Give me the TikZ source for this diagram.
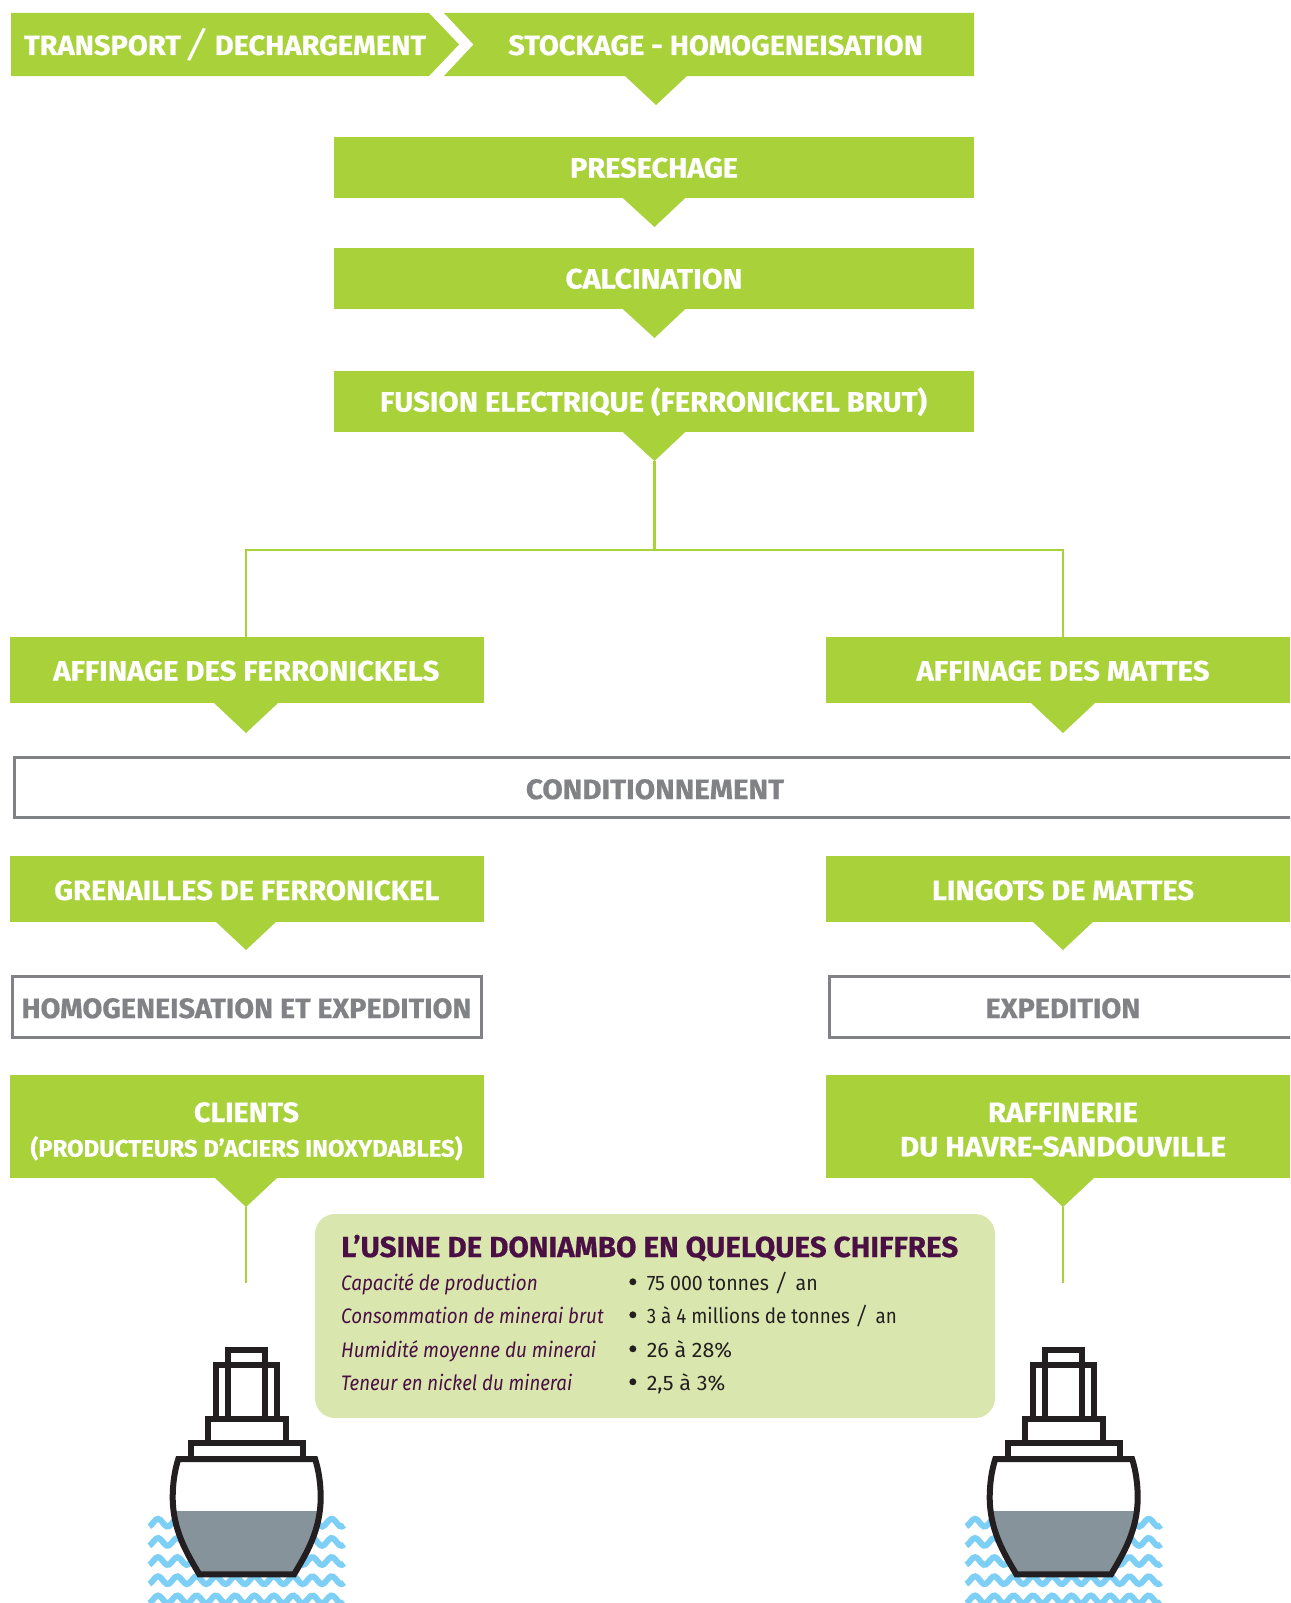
\documentclass[tikz,border=0pt]{standalone}
\usepackage{graphicx}
\usepackage{fontspec}
\setmainfont{Fira Sans}[BoldFeatures={FakeBold=0.6}]
\newfontfamily\lightf{Fira Sans}[UprightFont=* Light]
\usetikzlibrary{calc}
\definecolor{leaf}{HTML}{A8D13A}
\definecolor{pale}{HTML}{D9E7AE}
\definecolor{plum}{HTML}{4A0F45}
\definecolor{ink}{HTML}{231F20}
\definecolor{greytxt}{HTML}{808285}
\definecolor{hullgrey}{HTML}{87939A}
\definecolor{wave}{HTML}{7DCFF5}
\newcommand{\fw}[2]{\resizebox{#1pt}{\height}{#2}}
\newcommand{\bigsl}{{\lightf\mdseries\fontsize{36}{36}\selectfont\raisebox{-3pt}{\scalebox{1.8}[1]{/}}}}
\newcommand{\rowsl}{{\lightf\fontsize{24}{24}\selectfont\raisebox{-1.5pt}{\scalebox{1.5}[1]{/}}}}
\tikzset{
  x=1pt,y=-1pt,
  outbox/.style={draw=greytxt,line width=3pt,fill=white,inner sep=0pt,text=greytxt,font=\bfseries\fontsize{28}{34}\selectfont,text height=20pt,text depth=0pt},
  label/.style={inner sep=0pt,text=white,font=\bfseries\fontsize{28}{34}\selectfont,text height=20pt,text depth=0pt},
  baseline label/.style={inner sep=0pt,text=white,anchor=base,font=\bfseries\fontsize{28}{34}\selectfont},
  tipfill/.style={fill=leaf},
  wire/.style={draw=leaf,line width=2.8pt},
  rowL/.style={inner sep=0pt,anchor=base west,text=plum,font=\itshape\fontsize{21}{24}\selectfont},
  rowR/.style={inner sep=0pt,anchor=base west,text=ink,font=\fontsize{21}{24}\selectfont},
  dotmark/.style={inner sep=0pt,anchor=base west,text=ink,font=\bfseries\fontsize{24}{24}\selectfont},
  ship/.pic={
    \foreach \wy in {1522.7,1541.9,1561,1580.2,1599.4}{
      \draw[wave,line width=6pt,line cap=butt] plot[domain=-97.4:97.4,samples=90,smooth] (\x,{\wy-3.9*cos((\x+88.7)*18.653)});
    }
    \fill[white] (-68.4,1459) .. controls (-72,1470) and (-74,1484) .. (-74,1497) .. controls (-74,1530) and (-60,1553) .. (-47.4,1574.3) -- (47.4,1574.3) .. controls (60,1553) and (74,1530) .. (74,1497) .. controls (74,1484) and (72,1470) .. (68.4,1459) -- cycle;
    \begin{scope}
      \clip (-68.4,1459) .. controls (-72,1470) and (-74,1484) .. (-74,1497) .. controls (-74,1530) and (-60,1553) .. (-47.4,1574.3) -- (47.4,1574.3) .. controls (60,1553) and (74,1530) .. (74,1497) .. controls (74,1484) and (72,1470) .. (68.4,1459) -- cycle;
      \fill[hullgrey] (-80,1511) rectangle (80,1580);
    \end{scope}
    \draw[ink,line width=6pt,miter limit=10] (-68.4,1459) .. controls (-72,1470) and (-74,1484) .. (-74,1497) .. controls (-74,1530) and (-60,1553) .. (-47.4,1574.3) -- (47.4,1574.3) .. controls (60,1553) and (74,1530) .. (74,1497) .. controls (74,1484) and (72,1470) .. (68.4,1459) -- cycle;
    \draw[ink,line width=6pt] (-56,1459) rectangle (56,1442.7);
    \draw[ink,line width=6pt] (-38.7,1442.7) rectangle (39,1418.7);
    \draw[ink,line width=6pt] (-31,1418.7) rectangle (30.6,1365.3);
    \draw[ink,line width=6pt] (-18.5,1418.7) rectangle (18.5,1350.3);
  }
}
\begin{document}
\begin{tikzpicture}
\useasboundingbox (0,0) rectangle (1290,1603);
\clip (0,0) rectangle (1290,1603);
\fill[white] (0,0) rectangle (1290,1603);

% header chevrons
\fill[leaf] (11,13) -- (429,13) -- (459,44.5) -- (429,76) -- (11,76) -- cycle;
\fill[leaf] (444,13) -- (974,13) -- (974,76) -- (444,76) -- (473.5,44.5) -- cycle;
\node[label] (transport) at (225,45) {\fw{402}{TRANSPORT\hspace{-1pt}\bigsl\hspace{0pt}DECHARGEMENT}};
\node[label] (stockage) at (715.6,45) {\fw{414.5}{STOCKAGE - HOMOGENEISATION}};
\coordinate (stocktip) at (656,105);
\fill[tipfill] (625,76) -- (stocktip) -- (687,76) -- cycle;

% main column
\node[fill=leaf,minimum width=640pt,minimum height=61pt] (prese) at (654,167.5) {};
\node[fill=leaf,minimum width=640pt,minimum height=61pt] (calc) at (654,278.5) {};
\node[fill=leaf,minimum width=640pt,minimum height=61pt] (fusion) at (654,401.5) {};
\node[label] (preset) at (654,167.5) {\fw{168}{PRESECHAGE}};
\node[label] (calct) at (654,278.5) {\fw{177}{CALCINATION}};
\node[label] (fusiont) at (653.5,401.5) {\fw{547}{FUSION ELECTRIQUE (FERRONICKEL BRUT)}};
\foreach \n/\ty in {prese/227,calc/338,fusion/461}{
  \coordinate (\n tip) at (654.5,\ty);
  \fill[tipfill] ($(\n.south)+(-31,0)$) -- (\n tip) -- ($(\n.south)+(31,0)$) -- cycle;
}
\coordinate (branch) at (654.5,550);

% two branches
\node[fill=leaf,minimum width=474pt,minimum height=66pt] (affF) at (247,670) {};
\node[label] (affFt) at (246.3,670.5) {\fw{386}{AFFINAGE DES FERRONICKELS}};
\node[fill=leaf,minimum width=464pt,minimum height=66pt,anchor=west] (affM) at (826,670) {};
\node[label] (affMt) at (1063,670.5) {\fw{293}{AFFINAGE DES MATTES}};
\node[outbox,minimum width=1300pt,minimum height=60.5pt,anchor=west] (cond) at (13,787.5) {};
\node[label,text=greytxt] (condt) at (655,789) {\fw{258}{CONDITIONNEMENT}};
\node[fill=leaf,minimum width=474pt,minimum height=66pt] (gren) at (247,888.5) {};
\node[label] (grent) at (246.8,890) {\fw{385}{GRENAILLES DE FERRONICKEL}};
\node[fill=leaf,minimum width=464pt,minimum height=66pt,anchor=west] (ling) at (826,888.5) {};
\node[label] (lingt) at (1063,890) {\fw{262}{LINGOTS DE MATTES}};
\node[outbox,minimum width=469pt,minimum height=61.5pt] (homog) at (246.5,1007) {};
\node[label,text=greytxt] (homogt) at (246.5,1008) {\fw{450}{HOMOGENEISATION ET EXPEDITION}};
\node[outbox,minimum width=480pt,minimum height=61.5pt,anchor=west] (exped) at (828,1007) {};
\node[label,text=greytxt] (expedt) at (1063,1008) {\fw{155}{EXPEDITION}};
\node[fill=leaf,minimum width=474pt,minimum height=103pt] (clients) at (247,1126) {};
\node[baseline label] (clienta) at (246.5,1122) {\fw{105}{CLIENTS}};
\node[baseline label] (clientb) at (246.5,1156.7) {\fw{432}{\fontsize{24}{24}\selectfont (PRODUCTEURS D'ACIERS INOXYDABLES)}};
\node[fill=leaf,minimum width=464pt,minimum height=103pt,anchor=west] (raff) at (826,1126) {};
\node[baseline label] (raffa) at (1063,1122) {\fw{150}{RAFFINERIE}};
\node[baseline label] (raffb) at (1063,1156.3) {\fw{326}{DU HAVRE-SANDOUVILLE}};

% tips
\foreach \n/\cx/\ty in {affF/246/733,gren/246/950,clients/246/1207,affM/1063/733,ling/1063/950,raff/1063/1207}{
  \coordinate (\n tip) at (\cx,\ty);
  \coordinate (\n a) at (\cx-32,\ty-30);
  \coordinate (\n b) at (\cx+32,\ty-30);
  \fill[tipfill] (\n a) -- (\n tip) -- (\n b) -- cycle;
}

% connectors
\coordinate (affFtop) at (246,637);
\coordinate (affMtop) at (1063,637);
\coordinate (shipL) at (246,1283);
\coordinate (shipR) at (1063,1283);
\draw[wire] (fusiontip) -- (branch);
\draw[wire] (affFtop) |- (branch);
\draw[wire] (affMtop) |- (branch);
\draw[wire] (clientstip) -- (shipL);
\draw[wire] (rafftip) -- (shipR);

% ships
\pic at (246.7,0) {ship};
\pic at (1063.7,0) {ship};

% figures panel
\node[fill=pale,rounded corners=20pt,minimum width=680pt,minimum height=204pt,inner sep=0pt] (panel) at (655,1316) {};
\node[inner sep=0pt,anchor=base west,text=plum,font=\bfseries\fontsize{29}{34}\selectfont] (title) at (341,1257) {\fw{617}{L'USINE DE DONIAMBO EN QUELQUES CHIFFRES}};
\node[rowL] (l1) at (341,1290) {\fw{196.5}{Capacité de production}};
\node[rowL] (l2) at (341,1323) {\fw{262.5}{Consommation de minerai brut}};
\node[rowL] (l3) at (341,1357) {\fw{255}{Humidité moyenne du minerai}};
\node[rowL] (l4) at (341,1390) {\fw{231}{Teneur en nickel du minerai}};
\node[dotmark] (b1) at (628.5,1290) {•};
\node[dotmark] (b2) at (628.5,1323) {•};
\node[dotmark] (b3) at (628.5,1357) {•};
\node[dotmark] (b4) at (628.5,1390) {•};
\node[rowR] (r1) at (646.6,1290) {\fw{171}{75 000 tonnes\hspace{4pt}\rowsl\hspace{6pt}an}};
\node[rowR] (r2) at (646.6,1323) {\fw{250}{3 à 4 millions de tonnes\hspace{4pt}\rowsl\hspace{6pt}an}};
\node[rowR] (r3) at (646.6,1357) {\fw{85.4}{26 à 28\%}};
\node[rowR] (r4) at (646.6,1390) {\fw{78.5}{2,5 à 3\%}};
\end{tikzpicture}
\end{document}
